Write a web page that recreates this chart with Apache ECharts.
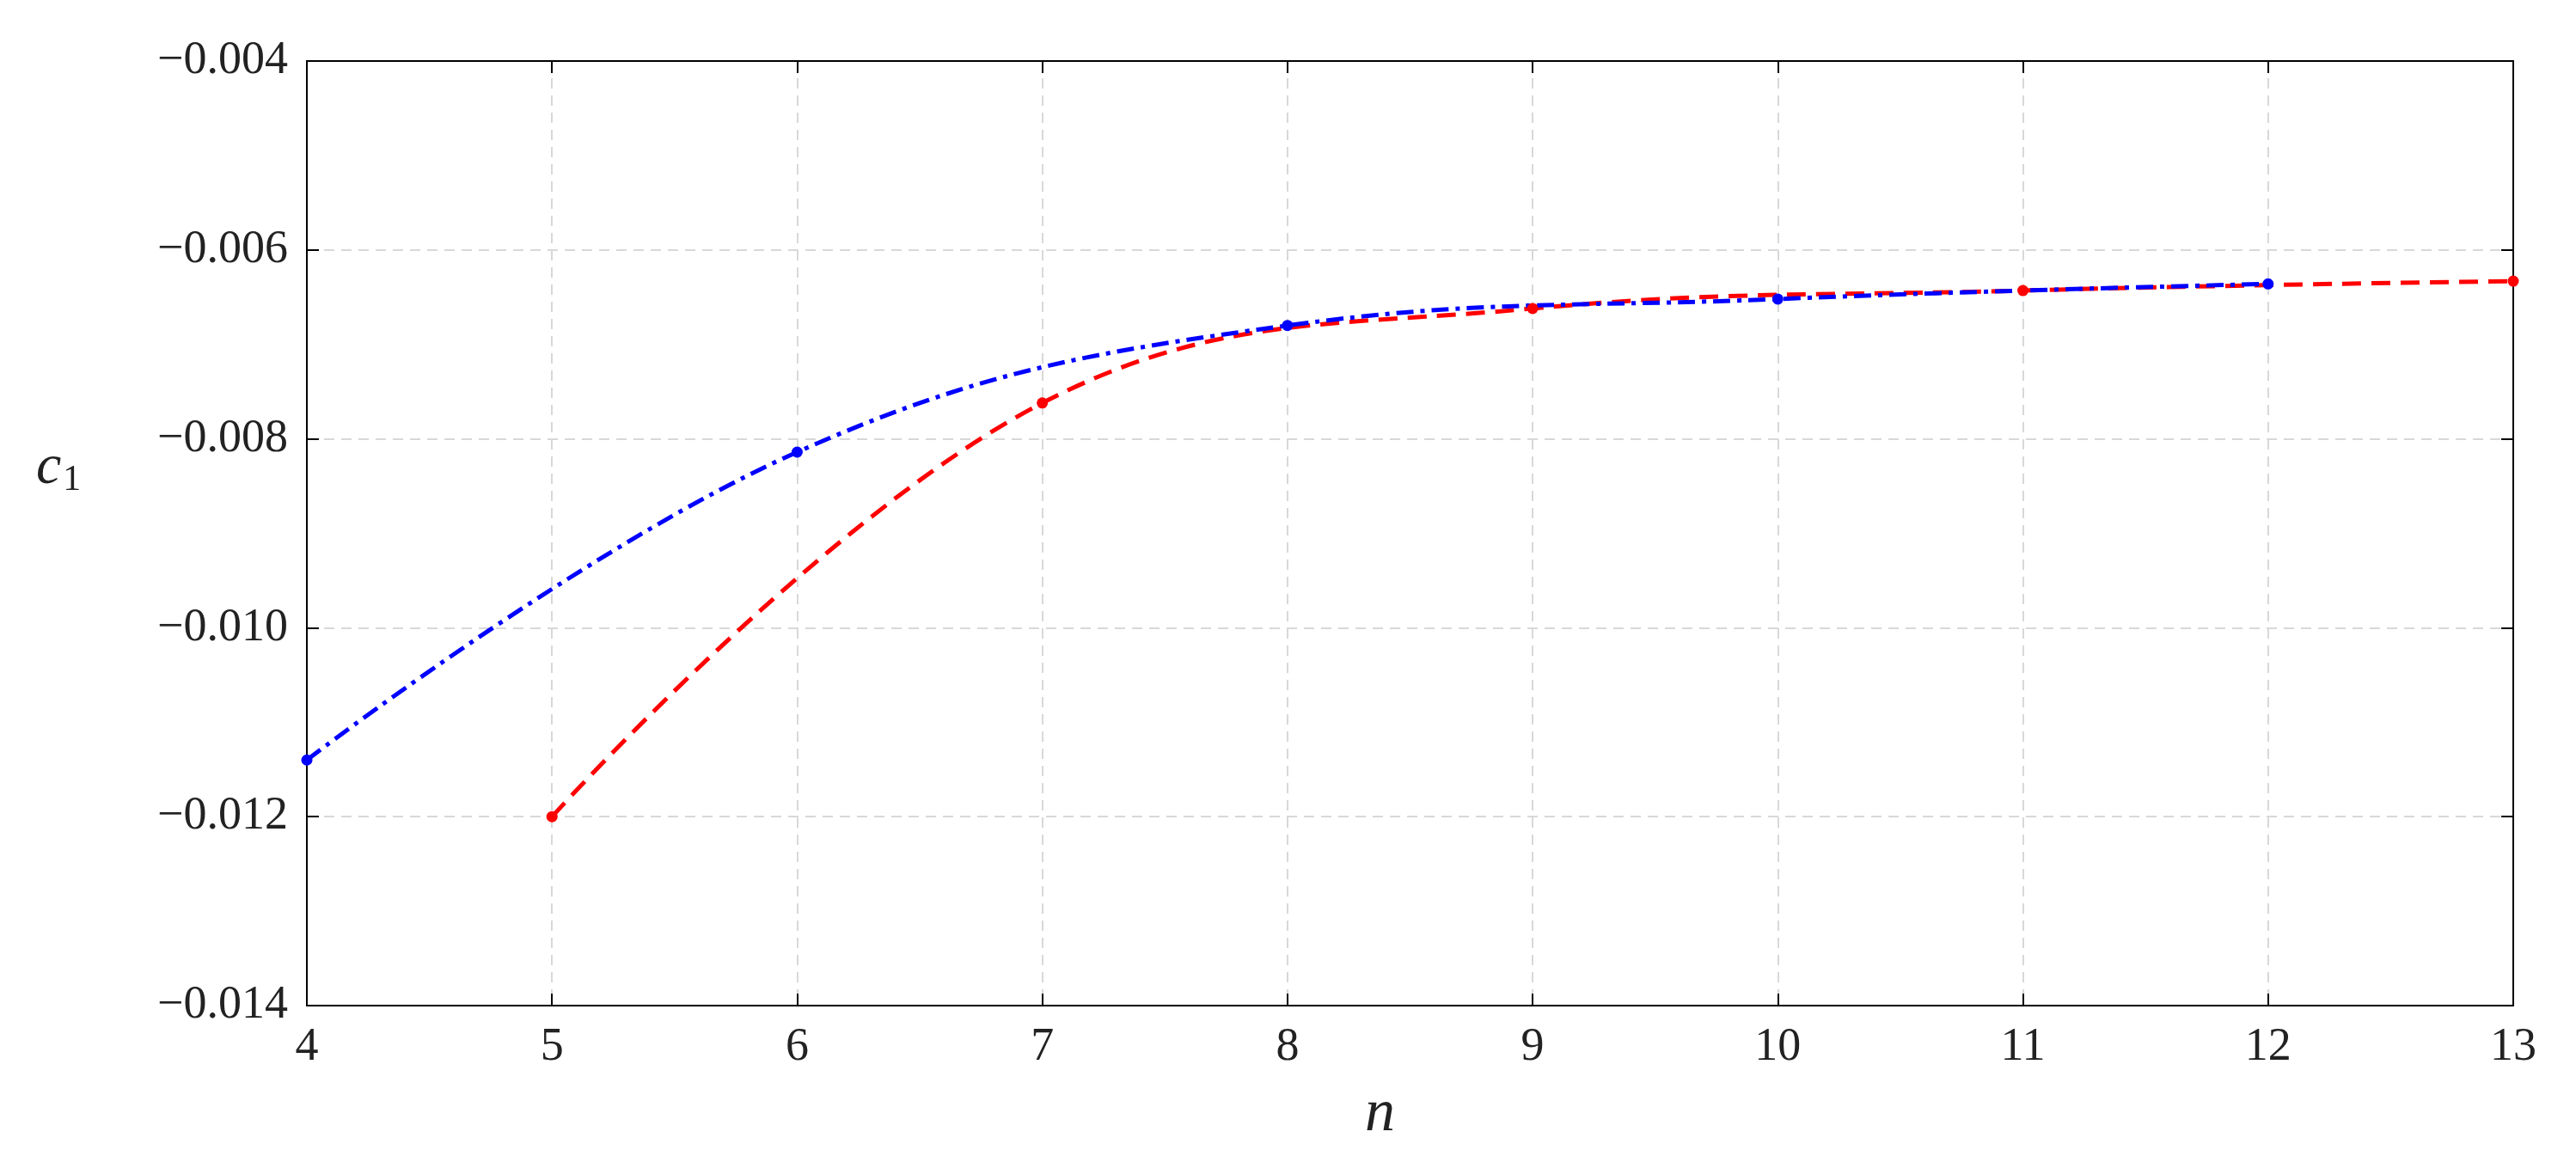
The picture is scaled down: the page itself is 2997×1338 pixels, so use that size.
<!DOCTYPE html>
<html><head><meta charset="utf-8">
<script src="https://cdn.jsdelivr.net/npm/echarts@6/dist/echarts.min.js"></script>
<style>html,body{margin:0;background:#fff}#c{width:2997px;height:1338px}</style>
</head><body><div id="c"></div>
<script>
// 数据
const blueN = [4, 6, 8, 10, 12];
const blueC = [-0.0114, -0.00814, -0.00680, -0.00652, -0.00636];
const redN = [5, 7, 9, 11, 13];
const redC = [-0.0120, -0.00762, -0.00662, -0.00643, -0.00633];

const chart = echarts.init(document.getElementById('c'));
const font = '"Liberation Serif", "Times New Roman", serif';
const frame = { show: true, onZero: false, lineStyle: { color: '#000', width: 2 } };
const grid = { show: true, lineStyle: { color: '#d8d8d8', type: [12, 8], width: 2 } };
const tick = { show: true, inside: true, length: 14, lineStyle: { color: '#000', width: 2 } };

chart.setOption({
  animation: false,
  grid: { left: 357, right: 73, top: 71, bottom: 168 },
  xAxis: [
    { type: 'value', min: 4, max: 13, interval: 1, axisLine: frame, axisTick: tick, splitLine: grid,
      axisLabel: { color: '#222', fontFamily: font, fontSize: 54, margin: 22 } },
    { type: 'value', position: 'top', min: 4, max: 13, interval: 1, axisLine: frame, axisTick: tick,
      axisLabel: { show: false }, splitLine: { show: false } }
  ],
  yAxis: [
    { type: 'value', min: -0.014, max: -0.004, interval: 0.002, axisLine: frame, axisTick: tick, splitLine: grid,
      axisLabel: { color: '#222', fontFamily: font, fontSize: 54, margin: 22,
        formatter: v => (v < 0 ? '\u2212' : '') + Math.abs(v).toFixed(3) } },
    { type: 'value', position: 'right', min: -0.014, max: -0.004, interval: 0.002, axisLine: frame, axisTick: tick,
      axisLabel: { show: false }, splitLine: { show: false } }
  ],
  graphic: [
    { type: 'text', left: 42, top: 512, style: { text: '{a|c}{b|1}', rich: {
      a: { fontFamily: font, fontStyle: 'italic', fontSize: 66, fill: '#222' },
      b: { fontFamily: font, fontSize: 42, fill: '#222', verticalAlign: 'bottom', padding: [28, 0, 0, 2] } } } },
    { type: 'text', left: 1588, top: 1262, style: { text: 'n', fontFamily: font, fontStyle: 'italic', fontSize: 70, fill: '#222' } }
  ],
  series: [
    { type: 'line', smooth: 0.4, data: redN.map((n, i) => [n, redC[i]]), symbol: 'circle', symbolSize: 13,
      itemStyle: { color: '#ff0000' }, lineStyle: { color: '#ff0000', width: 5, type: [22, 12] } },
    { type: 'line', smooth: 0.4, data: blueN.map((n, i) => [n, blueC[i]]), symbol: 'circle', symbolSize: 13,
      itemStyle: { color: '#0000ff' }, lineStyle: { color: '#0000ff', width: 5, type: [20, 8, 5, 8] } }
  ]
});
</script></body></html>
